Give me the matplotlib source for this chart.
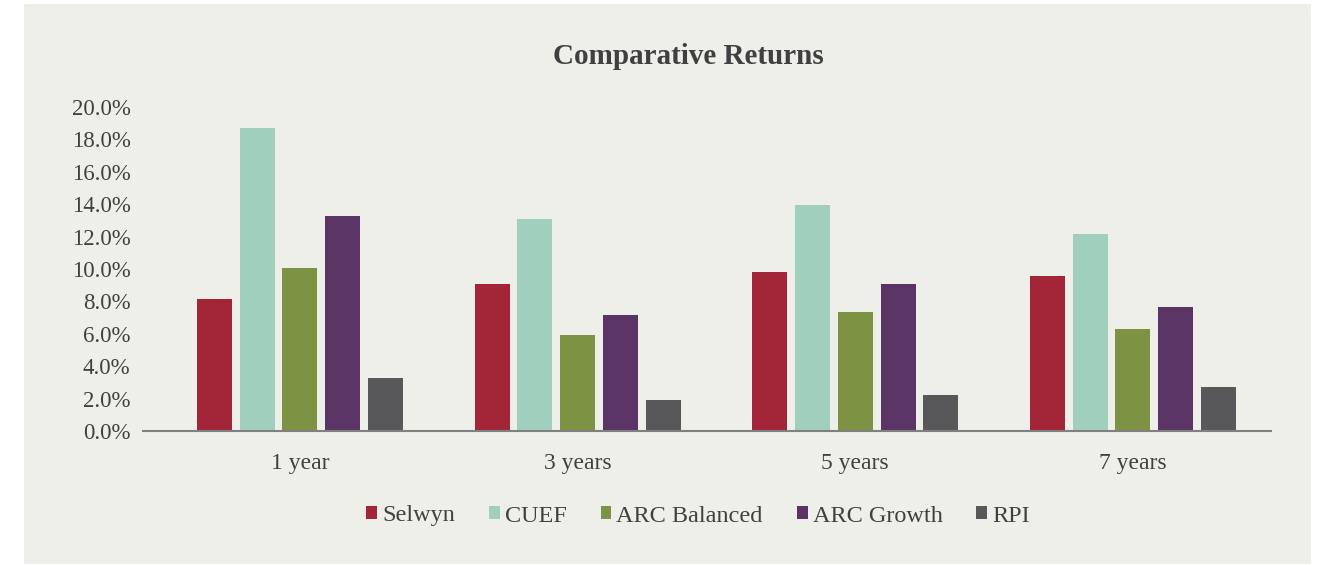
import numpy as np
import matplotlib
matplotlib.use("Agg")
import matplotlib.pyplot as plt
from matplotlib.patches import Rectangle
from matplotlib.ticker import FuncFormatter

# data (percent)
periods = ['1 year', '3 years', '5 years', '7 years']
series_names = ['Selwyn', 'CUEF', 'ARC Balanced', 'ARC Growth', 'RPI']
selwyn = [8.15, 9.07, 9.80, 9.57]
cuef = [18.70, 13.09, 13.95, 12.17]
arc_balanced = [10.05, 5.93, 7.35, 6.30]
arc_growth = [13.27, 7.16, 9.07, 7.65]
rpi = [3.30, 1.90, 2.20, 2.70]
y_ticks = [0, 2, 4, 6, 8, 10, 12, 14, 16, 18, 20]

colors = ['#A32638', '#A0CFBE', '#7E9243', '#5A3465', '#58585B']
bg = '#EFEFEA'
text_col = '#404040'
font = ['Liberation Serif', 'DejaVu Serif']

plt.rcParams['font.family'] = font

fig = plt.figure(figsize=(13.26, 5.65), dpi=100, facecolor='white')
# grey panel behind the chart
fig.patches.append(Rectangle((24 / 1326, 1 - 564 / 565), (1311 - 24) / 1326, (564 - 4) / 565,
                             transform=fig.transFigure, facecolor=bg, edgecolor='none', zorder=-10))

ax = fig.add_axes([143 / 1326, 1 - 431 / 565, (1271 - 143) / 1326, (431 - 107) / 565])
ax.set_facecolor('none')
ax.set_zorder(5)

x = np.arange(len(periods))
width = 0.126
step = 0.154
all_series = [selwyn, cuef, arc_balanced, arc_growth, rpi]
for i, (name, vals) in enumerate(zip(series_names, all_series)):
    ax.bar(x + (i - 2) * step, vals, width, color=colors[i], label=name, zorder=2)

ax.set_xlim(-0.565, 3.497)
ax.set_ylim(0, 20)
ax.set_yticks(y_ticks)
ax.yaxis.set_major_formatter(FuncFormatter(lambda v, p: f'{v:.1f}%'))
ax.set_xticks(x)
ax.set_xticklabels(periods)
ax.tick_params(axis='y', length=0, labelsize=16.5, labelcolor=text_col, pad=9)
ax.tick_params(axis='x', length=0, labelsize=17, labelcolor=text_col, pad=16)

for s in ['top', 'right', 'left']:
    ax.spines[s].set_visible(False)
ax.spines['bottom'].set_color('#808080')
ax.spines['bottom'].set_linewidth(1.5)
ax.spines['bottom'].set_zorder(3)

fig.text(688 / 1326, 1 - 56 / 565, 'Comparative Returns', ha='center', va='center',
         fontsize=21, fontweight='bold', color=text_col)

fig.legend(loc='center', bbox_to_anchor=(698 / 1326, 1 - 516 / 565), ncol=5, frameon=False,
           fontsize=17.5, handlelength=0.45, handleheight=0.45, handletextpad=0.2,
           columnspacing=1.4, labelcolor=text_col)

fig.savefig('out.png', dpi=100, facecolor='white')
